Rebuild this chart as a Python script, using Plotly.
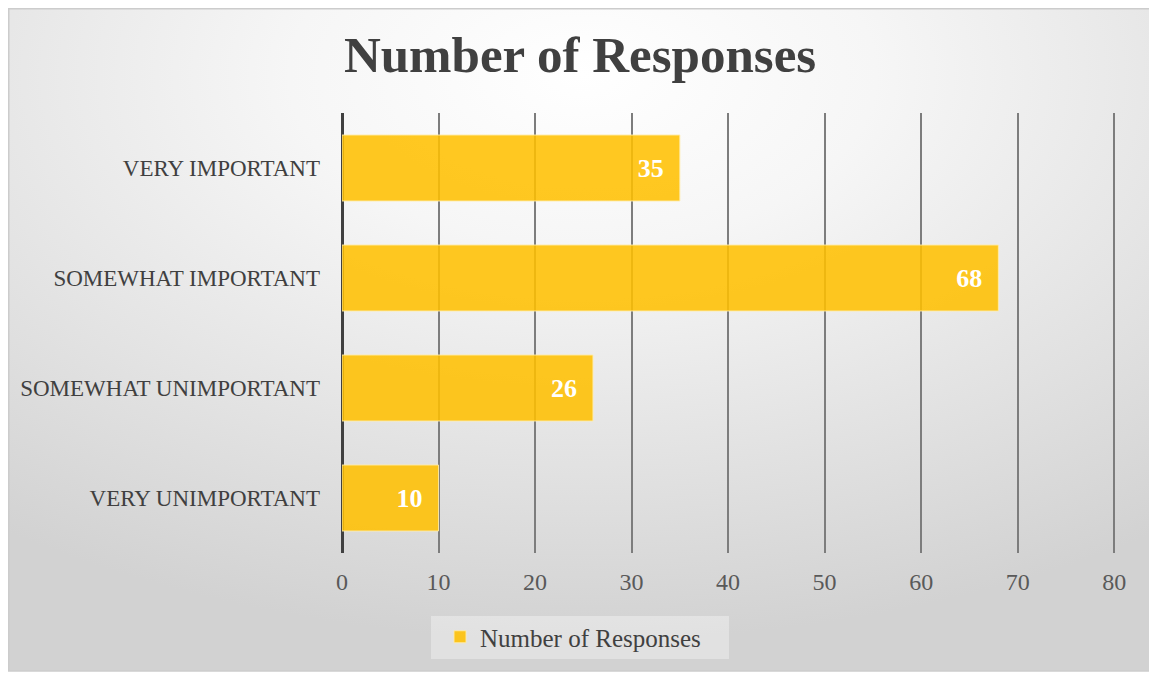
import base64
import plotly.graph_objects as go

categories = ["VERY IMPORTANT", "SOMEWHAT IMPORTANT", "SOMEWHAT UNIMPORTANT", "VERY UNIMPORTANT"]
responses = [35, 68, 26, 10]
x_ticks = [0, 10, 20, 30, 40, 50, 60, 70, 80]
series_name = "Number of Responses"
title_text = "Number of Responses"

# page is rendered with an 8px body margin, so the figure is 8px smaller and shifted
OFF = 8
W, H = 1157 - OFF, 674 - OFF
ML, MT = 342 - OFF, 113 - OFF
MR, MB = W - (1119 - OFF), H - (553 - OFF)
PW, PH = W - ML - MR, H - MT - MB

svg = f'''<svg xmlns="http://www.w3.org/2000/svg" width="{W}" height="{H}" viewBox="0 0 {W} {H}">
<defs><radialGradient id="g" cx="0.5" cy="0.1" r="0.85" fx="0.5" fy="0.1">
<stop offset="0" stop-color="#ffffff"/><stop offset="0.3" stop-color="#f6f6f6"/><stop offset="1" stop-color="#d2d2d2"/></radialGradient></defs>
<rect x="0" y="0" width="{W}" height="{H}" fill="url(#g)"/>
<rect x="0.75" y="0.75" width="{W - 4 - 0.75}" height="{H - 3 - 0.75}" fill="none" stroke="#cccccc" stroke-width="1.5"/>
<rect x="{W - 3}" y="0" width="3" height="{H}" fill="#ffffff"/>
<rect x="0" y="{H - 2.25}" width="{W}" height="3" fill="#ffffff"/>
</svg>'''
bg_src = "data:image/svg+xml;base64," + base64.b64encode(svg.encode()).decode()

FONT = "Liberation Serif"


def px_x(p):
    return (p - OFF - ML) / PW


def px_y(p):
    return (MT + PH - (p - OFF)) / PH


fig = go.Figure()
fig.add_trace(go.Bar(
    y=categories, x=responses, orientation="h", name=series_name,
    marker=dict(color="rgba(255,192,0,0.87)", line=dict(color="rgba(255,236,170,0.9)", width=1)),
    texttemplate="<b>%{x}</b>\u00a0\u00a0", textposition="inside", insidetextanchor="end",
    textfont=dict(family=FONT, size=26, color="#ffffff"), showlegend=True,
))

fig.update_layout(
    width=W, height=H,
    margin=dict(l=ML, r=MR, t=MT, b=MB),
    paper_bgcolor="#ffffff", plot_bgcolor="rgba(0,0,0,0)",
    bargap=0.4,
    title=dict(text="<b>" + title_text + "</b>", x=(580 - OFF) / W, xref="container", xanchor="center",
               y=1 - (54 - OFF) / H, yref="container", yanchor="middle",
               font=dict(family=FONT, size=51, color="#404040")),
    xaxis=dict(range=[0, 80.5], tickvals=x_ticks, showgrid=True, gridcolor="#7d7d7d", gridwidth=1.5,
               zeroline=True, zerolinecolor="#404040", zerolinewidth=3, showline=False,
               tickfont=dict(family=FONT, size=24, color="#595959"), ticks="", ticklabelstandoff=12),
    yaxis=dict(autorange="reversed", showgrid=False, showline=False, ticks="",
               tickfont=dict(family=FONT, size=23, color="#404040"), ticklabelstandoff=21),
    legend=dict(orientation="h", x=px_x(440), xanchor="left", y=px_y(637), yanchor="middle",
                bgcolor="rgba(0,0,0,0)", font=dict(family=FONT, size=25, color="#404040")),
    images=[dict(source=bg_src, xref="paper", yref="paper", x=-ML / PW, y=1 + MT / PH,
                 sizex=W / PW, sizey=H / PH, xanchor="left", yanchor="top", sizing="stretch", layer="below")],
    shapes=[dict(type="rect", xref="paper", yref="paper",
                 x0=px_x(431), x1=px_x(729), y0=px_y(659), y1=px_y(616),
                 fillcolor="rgba(255,255,255,0.35)", line=dict(width=0), layer="below")],
)

fig.write_html("out.html")
